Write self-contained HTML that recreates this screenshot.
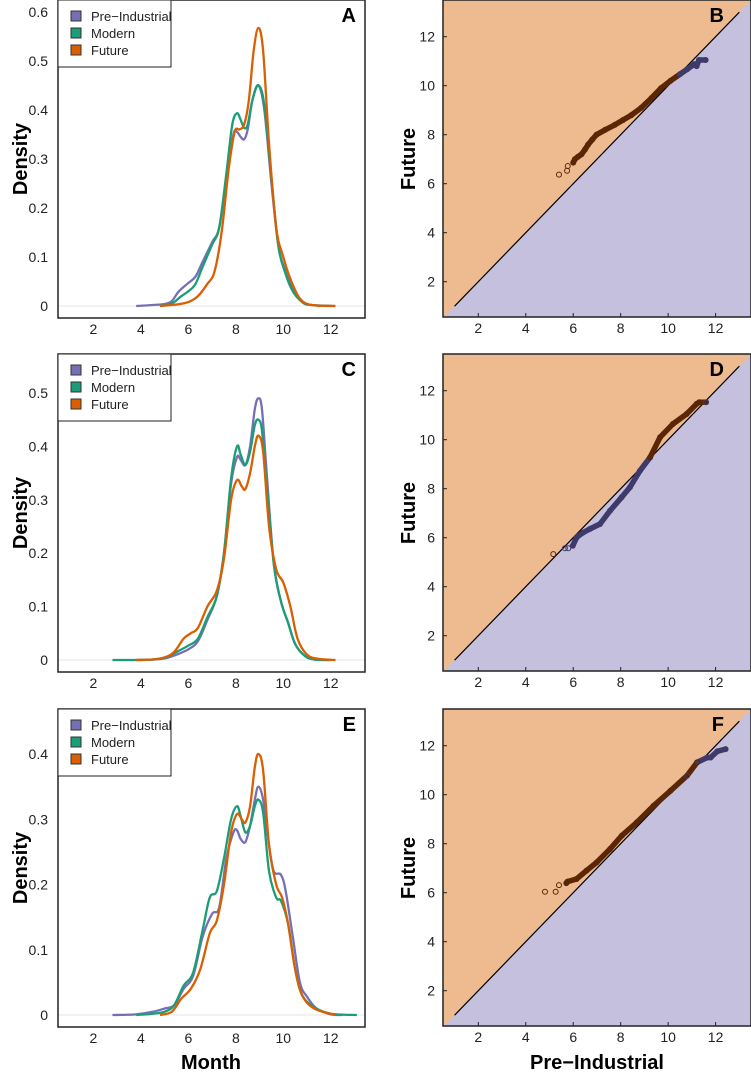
<!DOCTYPE html>
<html><head><meta charset="utf-8"><style>
html,body{margin:0;padding:0;background:#fff;overflow:hidden;width:751px;height:1079px;}
svg{display:block;font-family:"Liberation Sans",Arial,sans-serif;}
</style></head><body>
<svg id="fig" width="751" height="1079" viewBox="0 0 751 1079" xmlns="http://www.w3.org/2000/svg" overflow="hidden"></svg>
<script>
// ---------- Density data ----------
const monthTicks = [2,4,6,8,10,12];
const seriesNames = ["Pre\u2212Industrial","Modern","Future"];
const seriesColors = ["#7570b3","#1b9e77","#d95f02"];

const aPreX = [3.8,4.5,5,5.3,5.6,6,6.3,6.6,7,7.3,7.6,7.9,8.05,8.2,8.35,8.5,8.7,8.95,9.2,9.5,9.8,10.1,10.4,10.8,11.2,12.2];
const aPreY = [0,0.002,0.004,0.01,0.03,0.047,0.06,0.09,0.13,0.16,0.26,0.35,0.355,0.345,0.34,0.36,0.42,0.45,0.40,0.25,0.12,0.07,0.035,0.008,0.002,0];
const aModX = [4.8,5.3,5.7,6,6.3,6.6,7,7.3,7.6,7.85,8.05,8.2,8.35,8.5,8.7,8.95,9.2,9.5,9.8,10.1,10.4,10.8,11.2,12];
const aModY = [0,0.005,0.02,0.03,0.045,0.08,0.125,0.16,0.27,0.37,0.393,0.38,0.363,0.37,0.42,0.45,0.41,0.26,0.12,0.065,0.03,0.008,0.002,0];
const aFutX = [4.8,5.5,6,6.4,6.8,7.1,7.4,7.7,7.95,8.15,8.35,8.55,8.75,8.95,9.15,9.4,9.7,10,10.3,10.7,11.2,12.2];
const aFutY = [0,0.003,0.008,0.02,0.045,0.07,0.15,0.28,0.355,0.36,0.37,0.42,0.52,0.567,0.52,0.33,0.16,0.1,0.055,0.015,0.002,0];

const cPreX = [3.8,4.5,5,5.5,6,6.4,6.8,7.2,7.5,7.8,8.05,8.2,8.4,8.6,8.8,8.95,9.1,9.3,9.6,9.9,10.2,10.5,10.9,11.3,12];
const cPreY = [0,0.001,0.003,0.01,0.02,0.035,0.075,0.12,0.2,0.33,0.38,0.375,0.365,0.40,0.47,0.49,0.47,0.35,0.18,0.11,0.07,0.03,0.008,0.001,0];
const cModX = [2.8,3.8,4.5,5,5.5,6,6.4,6.8,7.2,7.5,7.8,8.05,8.2,8.4,8.6,8.8,8.95,9.1,9.3,9.6,9.9,10.2,10.5,10.9,11.3,12];
const cModY = [0,0,0.001,0.004,0.015,0.027,0.04,0.08,0.12,0.2,0.34,0.40,0.385,0.365,0.39,0.44,0.45,0.43,0.33,0.18,0.11,0.07,0.03,0.008,0.001,0];
const cFutX = [3.8,4.5,5,5.4,5.8,6.1,6.4,6.8,7.2,7.5,7.8,8.05,8.25,8.4,8.6,8.8,8.95,9.15,9.4,9.7,10,10.3,10.6,11,11.5,12.2];
const cFutY = [0,0.001,0.005,0.015,0.04,0.05,0.06,0.1,0.13,0.19,0.3,0.337,0.325,0.32,0.35,0.4,0.42,0.39,0.25,0.17,0.145,0.1,0.04,0.01,0.002,0];

const ePreX = [2.8,3.8,4.5,5,5.4,5.8,6.2,6.6,7,7.3,7.6,7.9,8.05,8.2,8.4,8.6,8.8,8.95,9.15,9.4,9.6,9.9,10.1,10.4,10.7,11,11.4,12,12.5];
const ePreY = [0,0.001,0.005,0.01,0.015,0.04,0.06,0.12,0.155,0.165,0.24,0.28,0.283,0.27,0.265,0.29,0.33,0.35,0.33,0.26,0.22,0.215,0.19,0.12,0.05,0.028,0.01,0.001,0];
const eModX = [3.8,4.5,5,5.4,5.8,6.2,6.6,6.9,7.2,7.5,7.8,8.05,8.2,8.4,8.6,8.8,8.95,9.15,9.4,9.7,9.9,10.2,10.5,10.8,11.3,12,13.1];
const eModY = [0,0.002,0.005,0.015,0.045,0.065,0.13,0.18,0.19,0.24,0.3,0.32,0.305,0.28,0.29,0.32,0.33,0.31,0.22,0.18,0.175,0.14,0.07,0.03,0.012,0.002,0];
const eFutX = [4.8,5.3,5.7,6.1,6.5,6.9,7.2,7.5,7.8,8.05,8.25,8.4,8.6,8.8,8.95,9.15,9.4,9.7,9.95,10.2,10.5,10.8,11.3,12.2];
const eFutY = [0,0.005,0.025,0.04,0.07,0.125,0.145,0.2,0.28,0.308,0.3,0.295,0.32,0.38,0.4,0.375,0.26,0.2,0.18,0.14,0.07,0.03,0.01,0];

const aTicks = [0,0.1,0.2,0.3,0.4,0.5,0.6];
const cTicks = [0,0.1,0.2,0.3,0.4,0.5];
const eTicks = [0,0.1,0.2,0.3,0.4];

// ---------- QQ data (Pre-Industrial vs Future quantiles) ----------
const qqTicks = [2,4,6,8,10,12];
const bPre = [5.4,5.74,5.77,6.0,6.07,6.2,6.35,6.5,6.63,6.8,6.98,7.35,7.75,8.1,8.45,8.87,9.3,9.7,10.1,10.5,10.8,11.1,11.2,11.3,11.58];
const bFut = [6.37,6.53,6.72,6.86,7.0,7.1,7.2,7.4,7.6,7.8,8.0,8.2,8.4,8.6,8.8,9.1,9.5,9.9,10.2,10.47,10.67,10.88,10.8,11.05,11.05];
const dPre = [5.16,5.65,5.79,5.98,6.15,6.4,6.71,7.13,7.55,8.04,8.39,8.81,9.24,9.66,10.2,10.78,11.2,11.31,11.6];
const dFut = [5.33,5.57,5.57,5.67,6.02,6.2,6.36,6.56,7.1,7.65,8.06,8.73,9.28,10.1,10.64,11.05,11.46,11.53,11.53];
const fPre = [4.81,5.26,5.4,5.71,5.76,6.14,6.56,6.99,7.55,8.05,8.68,9.39,10.1,10.8,11.22,11.65,11.79,12.07,12.42];
const fFut = [6.04,6.04,6.31,6.39,6.45,6.56,6.9,7.24,7.78,8.33,8.87,9.55,10.16,10.78,11.32,11.52,11.52,11.77,11.86];

const NS = "http://www.w3.org/2000/svg";
const svg = document.getElementById('fig');
function mk(tag, attrs, parent){
  const e = document.createElementNS(NS, tag);
  for (const k in attrs) e.setAttribute(k, attrs[k]);
  (parent||svg).appendChild(e);
  return e;
}
function smoothPath(pts){
  let d = "M"+pts[0][0].toFixed(2)+","+pts[0][1].toFixed(2);
  for (let i=0;i<pts.length-1;i++){
    const p0=pts[Math.max(0,i-1)], p1=pts[i], p2=pts[i+1], p3=pts[Math.min(pts.length-1,i+2)];
    const c1x=p1[0]+(p2[0]-p0[0])/6, c1y=p1[1]+(p2[1]-p0[1])/6;
    const c2x=p2[0]-(p3[0]-p1[0])/6, c2y=p2[1]-(p3[1]-p1[1])/6;
    d+=" C"+c1x.toFixed(2)+","+c1y.toFixed(2)+" "+c2x.toFixed(2)+","+c2y.toFixed(2)+" "+p2[0].toFixed(2)+","+p2[1].toFixed(2);
  }
  return d;
}

function densityPanel(letter, top, ymax, ticks, series){
  const L=58, R=365, T=top, B=top+318;
  const x = v => 46 + v*23.73;
  const zeroY = B-12;
  const y = v => zeroY - v*(zeroY-T)/ymax;
  const g = mk('g', {});
  
  
  const clipId='clip'+letter;
  const cp = mk('clipPath',{id:clipId},g); mk('rect',{x:L,y:T,width:R-L,height:B-T},cp);
  const zl = mk('line',{x1:L,x2:R,y1:zeroY,y2:zeroY,stroke:'#e6e6e6','stroke-width':1},g);
  
  
  const cg = mk('g',{'clip-path':'url(#'+clipId+')'},g);
  series.forEach((s,i)=>{
    const pts = s[0].map((xv,j)=>[x(xv), y(s[1][j])]);
    const p = mk('path',{d:smoothPath(pts),fill:'none',stroke:seriesColors[i],'stroke-width':2.3,'stroke-linejoin':'round'},cg);
    
    
  });
  const box = mk('rect',{x:L,y:T,width:R-L,height:B-T,fill:'none',stroke:'#222','stroke-width':1.5},g);
  
  
  ticks.forEach(t=>{
    const tl = mk('text',{x:L-10,y:y(t)+5,'text-anchor':'end','font-size':14,fill:'#222'},g);
    tl.textContent = t===0?'0':t.toFixed(1);
    
    
  });
  monthTicks.forEach(t=>{
    const tl = mk('text',{x:x(t),y:B+16,'text-anchor':'middle','font-size':14,fill:'#222'},g);
    tl.textContent = t;
    
    
  });
  const yl = mk('text',{x:0,y:0,transform:'translate(27,'+(T+159)+') rotate(-90)','text-anchor':'middle','font-size':20,'font-weight':'bold',fill:'#000'},g);
  yl.textContent='Density';
  
  
  const pl = mk('text',{x:R-9,y:T+22,'text-anchor':'end','font-size':20,'font-weight':'bold',fill:'#000'},g);
  pl.textContent=letter;
  
  
  const lg = mk('g',{},g);
  
  
  mk('rect',{x:L,y:T,width:113,height:67,fill:'#fff',stroke:'#222','stroke-width':1},lg);
  seriesNames.forEach((n,i)=>{
    const e = mk('g',{},lg);
    
    
    mk('rect',{x:L+13,y:T+11+i*17,width:10,height:10,fill:seriesColors[i],stroke:'#333','stroke-width':1},e);
    const t = mk('text',{x:L+33,y:T+21+i*17,'font-size':13,fill:'#222'},e);
    t.textContent=n;
  });
}

function qqPanel(letter, top, pre, fut){
  const L=443, R=751, T=top, B=top+317;
  const x = v => 478.3 + (v-2)*23.73;
  const y = v => (T+281.7) - (v-2)*24.5;
  const g = mk('g', {});
  
  
  const clipId='clipq'+letter;
  const cp = mk('clipPath',{id:clipId},g); mk('rect',{x:L,y:T,width:R-L,height:B-T},cp);
  const cg = mk('g',{'clip-path':'url(#'+clipId+')'},g);
  const bg = mk('rect',{x:L,y:T,width:R-L,height:B-T,fill:'#c4c0de'},cg);
  
  
  const lo=-5, hi=20;
  const up = mk('polygon',{points:[[x(lo),y(lo)],[x(hi),y(hi)],[x(lo),y(hi)]].map(p=>p.join(',')).join(' '),fill:'#eebb90'},cg);
  
  
  const dl = mk('line',{x1:x(1),y1:y(1),x2:x(13),y2:y(13),stroke:'#000','stroke-width':1.2},cg);
  
  
  const colorOf=(a,b)=> b>=a ? '#5a2606' : '#3f3a6a';
  for(let i=0;i<pre.length-1;i++){
    if (i<3) continue;
    const s = mk('line',{x1:x(pre[i]),y1:y(fut[i]),x2:x(pre[i+1]),y2:y(fut[i+1]),stroke:colorOf((pre[i]+pre[i+1])/2,(fut[i]+fut[i+1])/2),'stroke-width':5.5,'stroke-linecap':'round'},cg);
    
    
  }
  pre.forEach((p,i)=>{
    const c = mk('circle',{cx:x(p),cy:y(fut[i]),r:2.5,fill:'none',stroke:colorOf(p,fut[i]),'stroke-width':1},cg);
    
    
  });
  const box = mk('rect',{x:L,y:T,width:R-L,height:B-T,fill:'none',stroke:'#222','stroke-width':1.5},g);
  
  
  qqTicks.forEach(t=>{
    mk('line',{x1:L,x2:L+4,y1:y(t),y2:y(t),stroke:'#222','stroke-width':1},g);
    mk('line',{x1:x(t),x2:x(t),y1:B,y2:B-4,stroke:'#222','stroke-width':1},g);
    const tl = mk('text',{x:L-8,y:y(t)+5,'text-anchor':'end','font-size':14,fill:'#222'},g);
    tl.textContent=t;
    
    
    const xl = mk('text',{x:x(t),y:B+16,'text-anchor':'middle','font-size':14,fill:'#222'},g);
    xl.textContent=t;
    
    
  });
  const yl = mk('text',{x:0,y:0,transform:'translate(415,'+(T+159)+') rotate(-90)','text-anchor':'middle','font-size':20,'font-weight':'bold',fill:'#000'},g);
  yl.textContent='Future';
  
  
  const pl = mk('text',{x:724,y:T+22,'text-anchor':'end','font-size':20,'font-weight':'bold',fill:'#000'},g);
  pl.textContent=letter;
  
  
}

densityPanel('A',0,0.624,aTicks,[[aPreX,aPreY],[aModX,aModY],[aFutX,aFutY]]);
densityPanel('C',354,0.573,cTicks,[[cPreX,cPreY],[cModX,cModY],[cFutX,cFutY]]);
densityPanel('E',709,0.469,eTicks,[[ePreX,ePreY],[eModX,eModY],[eFutX,eFutY]]);
qqPanel('B',0,bPre,bFut);
qqPanel('D',354,dPre,dFut);
qqPanel('F',709,fPre,fFut);

const mx = mk('text',{x:211,y:1069,'text-anchor':'middle','font-size':20,'font-weight':'bold',fill:'#000'});
mx.textContent='Month';


const px = mk('text',{x:597,y:1069,'text-anchor':'middle','font-size':20,'font-weight':'bold',fill:'#000'});
px.textContent='Pre\u2212Industrial';


</script>
</body></html>
